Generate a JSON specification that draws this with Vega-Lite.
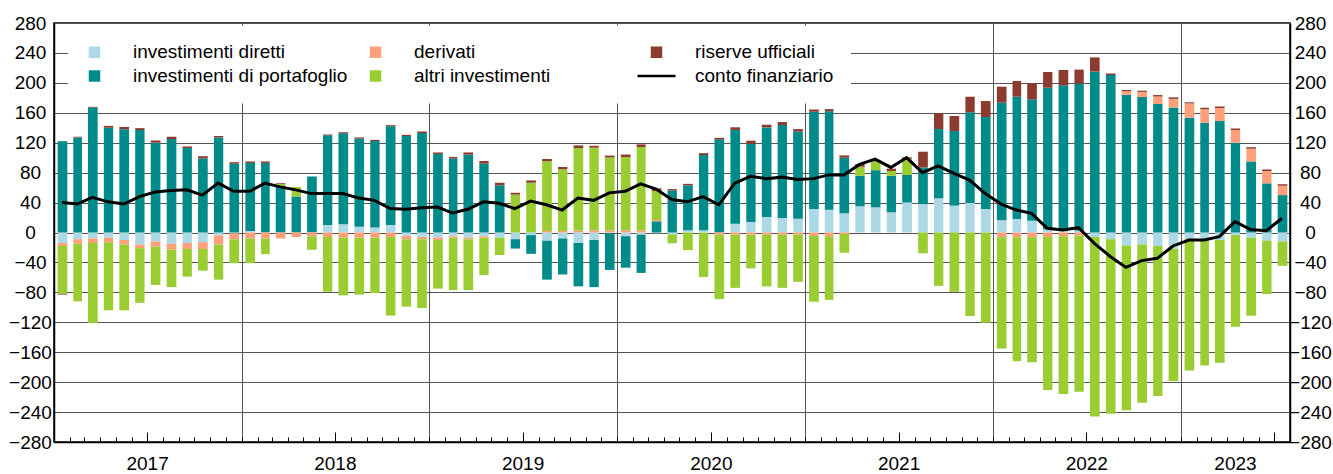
{
  "$schema": "https://vega.github.io/schema/vega-lite/v6.json",
  "width": 1236,
  "height": 419,
  "autosize": {"type": "none"},
  "padding": {"left": 54, "top": 23, "right": 43, "bottom": 32},
  "background": "white",
  "config": {
    "view": {"stroke": "black", "strokeWidth": 1.5},
    "font": "Liberation Sans",
    "axis": {"labelFont": "Liberation Sans", "labelFontSize": 19, "labelColor": "black", "domainColor": "black", "domainWidth": 1.5, "tickColor": "black", "title": null}
  },
  "data": {
    "format": {"parse": {"mese": "date"}},
    "values": [
      {"mese": "2017-01", "investimenti diretti": -14, "investimenti di portafoglio": 122, "derivati": -4, "altri investimenti": -64, "riserve ufficiali": -1, "conto finanziario": 40},
      {"mese": "2017-02", "investimenti diretti": -9, "investimenti di portafoglio": 127, "derivati": -6, "altri investimenti": -77, "riserve ufficiali": 1, "conto finanziario": 38},
      {"mese": "2017-03", "investimenti diretti": -8, "investimenti di portafoglio": 167, "derivati": -6, "altri investimenti": -107, "riserve ufficiali": 1, "conto finanziario": 47},
      {"mese": "2017-04", "investimenti diretti": -7, "investimenti di portafoglio": 140, "derivati": -6, "altri investimenti": -91, "riserve ufficiali": 2.5, "conto finanziario": 41},
      {"mese": "2017-05", "investimenti diretti": -10, "investimenti di portafoglio": 138, "derivati": -6, "altri investimenti": -88, "riserve ufficiali": 3, "conto finanziario": 38},
      {"mese": "2017-06", "investimenti diretti": -16, "investimenti di portafoglio": 137, "derivati": -5, "altri investimenti": -73, "riserve ufficiali": 2.5, "conto finanziario": 48},
      {"mese": "2017-07", "investimenti diretti": -12, "investimenti di portafoglio": 120, "derivati": -7, "altri investimenti": -51, "riserve ufficiali": 3, "conto finanziario": 54},
      {"mese": "2017-08", "investimenti diretti": -15, "investimenti di portafoglio": 125, "derivati": -8, "altri investimenti": -50, "riserve ufficiali": 3, "conto finanziario": 56},
      {"mese": "2017-09", "investimenti diretti": -14, "investimenti di portafoglio": 113, "derivati": -8, "altri investimenti": -37, "riserve ufficiali": 2, "conto finanziario": 57},
      {"mese": "2017-10", "investimenti diretti": -13, "investimenti di portafoglio": 99, "derivati": -9, "altri investimenti": -29, "riserve ufficiali": 3, "conto finanziario": 50},
      {"mese": "2017-11", "investimenti diretti": -4, "investimenti di portafoglio": 127, "derivati": -12, "altri investimenti": -47, "riserve ufficiali": 2, "conto finanziario": 66},
      {"mese": "2017-12", "investimenti diretti": -1, "investimenti di portafoglio": 92, "derivati": -8, "altri investimenti": -32, "riserve ufficiali": 2, "conto finanziario": 55},
      {"mese": "2018-01", "investimenti diretti": 2, "investimenti di portafoglio": 91, "derivati": -8, "altri investimenti": -33, "riserve ufficiali": 2, "conto finanziario": 55},
      {"mese": "2018-02", "investimenti diretti": 0, "investimenti di portafoglio": 93, "derivati": -8, "altri investimenti": -21, "riserve ufficiali": 2, "conto finanziario": 66},
      {"mese": "2018-03", "investimenti diretti": 0, "investimenti di portafoglio": 62, "derivati": -8, "altri investimenti": 3, "riserve ufficiali": 1, "conto finanziario": 61},
      {"mese": "2018-04", "investimenti diretti": 0, "investimenti di portafoglio": 48, "derivati": -6, "altri investimenti": 13, "riserve ufficiali": 0, "conto finanziario": 57},
      {"mese": "2018-05", "investimenti diretti": 0, "investimenti di portafoglio": 75, "derivati": -5, "altri investimenti": -18, "riserve ufficiali": 0, "conto finanziario": 52},
      {"mese": "2018-06", "investimenti diretti": 10, "investimenti di portafoglio": 120, "derivati": -6, "altri investimenti": -73, "riserve ufficiali": 1, "conto finanziario": 52},
      {"mese": "2018-07", "investimenti diretti": 11, "investimenti di portafoglio": 121.5, "derivati": -7, "altri investimenti": -77, "riserve ufficiali": 1.5, "conto finanziario": 52},
      {"mese": "2018-08", "investimenti diretti": 7.6, "investimenti di portafoglio": 118, "derivati": -7, "altri investimenti": -76, "riserve ufficiali": 1.5, "conto finanziario": 46},
      {"mese": "2018-09", "investimenti diretti": 6.7, "investimenti di portafoglio": 115.6, "derivati": -7, "altri investimenti": -74, "riserve ufficiali": 1.5, "conto finanziario": 43},
      {"mese": "2018-10", "investimenti diretti": 10, "investimenti di portafoglio": 132, "derivati": -6, "altri investimenti": -105, "riserve ufficiali": 1.5, "conto finanziario": 32},
      {"mese": "2018-11", "investimenti diretti": -4.5, "investimenti di portafoglio": 129, "derivati": -4.5, "altri investimenti": -90, "riserve ufficiali": 1.5, "conto finanziario": 31},
      {"mese": "2018-12", "investimenti diretti": -6, "investimenti di portafoglio": 133, "derivati": -3, "altri investimenti": -92, "riserve ufficiali": 2, "conto finanziario": 33},
      {"mese": "2019-01", "investimenti diretti": -7, "investimenti di portafoglio": 105, "derivati": -3, "altri investimenti": -65, "riserve ufficiali": 2, "conto finanziario": 34},
      {"mese": "2019-02", "investimenti diretti": -5, "investimenti di portafoglio": 99, "derivati": -2, "altri investimenti": -70, "riserve ufficiali": 2, "conto finanziario": 26},
      {"mese": "2019-03", "investimenti diretti": -7, "investimenti di portafoglio": 104, "derivati": -2, "altri investimenti": -68, "riserve ufficiali": 3, "conto finanziario": 31},
      {"mese": "2019-04", "investimenti diretti": -5, "investimenti di portafoglio": 92, "derivati": -2, "altri investimenti": -50, "riserve ufficiali": 3.5, "conto finanziario": 41},
      {"mese": "2019-05", "investimenti diretti": -7, "investimenti di portafoglio": 63, "derivati": 0, "altri investimenti": -23, "riserve ufficiali": 3.5, "conto finanziario": 39},
      {"mese": "2019-06", "investimenti diretti": -9, "investimenti di portafoglio": -12.5, "derivati": 0, "altri investimenti": 50.6, "riserve ufficiali": 2.5, "conto finanziario": 32},
      {"mese": "2019-07", "investimenti diretti": -3.5, "investimenti di portafoglio": -25, "derivati": 0, "altri investimenti": 66.6, "riserve ufficiali": 3, "conto finanziario": 42},
      {"mese": "2019-08", "investimenti diretti": -11, "investimenti di portafoglio": -52, "derivati": 2, "altri investimenti": 93.3, "riserve ufficiali": 3, "conto finanziario": 37},
      {"mese": "2019-09", "investimenti diretti": -8, "investimenti di portafoglio": -48, "derivati": 2, "altri investimenti": 82.4, "riserve ufficiali": 3, "conto finanziario": 30},
      {"mese": "2019-10", "investimenti diretti": -14, "investimenti di portafoglio": -58, "derivati": 2.5, "altri investimenti": 110.4, "riserve ufficiali": 3.5, "conto finanziario": 46},
      {"mese": "2019-11", "investimenti diretti": -10, "investimenti di portafoglio": -63, "derivati": 3, "altri investimenti": 110.4, "riserve ufficiali": 2.5, "conto finanziario": 43},
      {"mese": "2019-12", "investimenti diretti": -1, "investimenti di portafoglio": -49, "derivati": 3, "altri investimenti": 97.3, "riserve ufficiali": 2.5, "conto finanziario": 53},
      {"mese": "2020-01", "investimenti diretti": -5, "investimenti di portafoglio": -42, "derivati": 3, "altri investimenti": 97.7, "riserve ufficiali": 3.5, "conto finanziario": 55},
      {"mese": "2020-02", "investimenti diretti": -3, "investimenti di portafoglio": -51, "derivati": 3, "altri investimenti": 111.3, "riserve ufficiali": 3.5, "conto finanziario": 65},
      {"mese": "2020-03", "investimenti diretti": -1, "investimenti di portafoglio": 15, "derivati": 1.7, "altri investimenti": 38.8, "riserve ufficiali": 3.5, "conto finanziario": 58},
      {"mese": "2020-04", "investimenti diretti": -2.5, "investimenti di portafoglio": 56, "derivati": 0, "altri investimenti": -12, "riserve ufficiali": 2, "conto finanziario": 44},
      {"mese": "2020-05", "investimenti diretti": 3, "investimenti di portafoglio": 60, "derivati": 0, "altri investimenti": -23.5, "riserve ufficiali": 2, "conto finanziario": 41},
      {"mese": "2020-06", "investimenti diretti": 3, "investimenti di portafoglio": 100.6, "derivati": -0.5, "altri investimenti": -59, "riserve ufficiali": 2.5, "conto finanziario": 48},
      {"mese": "2020-07", "investimenti diretti": 0, "investimenti di portafoglio": 124.5, "derivati": -3, "altri investimenti": -86, "riserve ufficiali": 2, "conto finanziario": 37},
      {"mese": "2020-08", "investimenti diretti": 11.8, "investimenti di portafoglio": 125.3, "derivati": -3, "altri investimenti": -71, "riserve ufficiali": 3.5, "conto finanziario": 66},
      {"mese": "2020-09", "investimenti diretti": 14, "investimenti di portafoglio": 104.7, "derivati": -3, "altri investimenti": -45, "riserve ufficiali": 4, "conto finanziario": 75},
      {"mese": "2020-10", "investimenti diretti": 20.7, "investimenti di portafoglio": 119.8, "derivati": -3, "altri investimenti": -69, "riserve ufficiali": 3.5, "conto finanziario": 72},
      {"mese": "2020-11", "investimenti diretti": 19.4, "investimenti di portafoglio": 124.2, "derivati": -3, "altri investimenti": -71, "riserve ufficiali": 4, "conto finanziario": 74},
      {"mese": "2020-12", "investimenti diretti": 18.5, "investimenti di portafoglio": 116.2, "derivati": -3, "altri investimenti": -63, "riserve ufficiali": 3.5, "conto finanziario": 71},
      {"mese": "2021-01", "investimenti diretti": 31.4, "investimenti di portafoglio": 130, "derivati": -4.5, "altri investimenti": -88, "riserve ufficiali": 3, "conto finanziario": 72},
      {"mese": "2021-02", "investimenti diretti": 30.5, "investimenti di portafoglio": 131.4, "derivati": -5, "altri investimenti": -85, "riserve ufficiali": 3, "conto finanziario": 77},
      {"mese": "2021-03", "investimenti diretti": 25.6, "investimenti di portafoglio": 74.4, "derivati": -2, "altri investimenti": -25, "riserve ufficiali": 3, "conto finanziario": 77},
      {"mese": "2021-04", "investimenti diretti": 35, "investimenti di portafoglio": 40.9, "derivati": 0, "altri investimenti": 12.1, "riserve ufficiali": 3.5, "conto finanziario": 91},
      {"mese": "2021-05", "investimenti diretti": 33.6, "investimenti di portafoglio": 49.7, "derivati": 0, "altri investimenti": 11.8, "riserve ufficiali": 1.8, "conto finanziario": 98},
      {"mese": "2021-06", "investimenti diretti": 27, "investimenti di portafoglio": 48.9, "derivati": 0, "altri investimenti": 6.3, "riserve ufficiali": 3.1, "conto finanziario": 87},
      {"mese": "2021-07", "investimenti diretti": 40, "investimenti di portafoglio": 36.9, "derivati": 0, "altri investimenti": 21.8, "riserve ufficiali": 1.8, "conto finanziario": 100},
      {"mese": "2021-08", "investimenti diretti": 38, "investimenti di portafoglio": 49, "derivati": 0, "altri investimenti": -27.8, "riserve ufficiali": 21, "conto finanziario": 80},
      {"mese": "2021-09", "investimenti diretti": 45.7, "investimenti di portafoglio": 92.6, "derivati": 0, "altri investimenti": -71.3, "riserve ufficiali": 20.9, "conto finanziario": 89},
      {"mese": "2021-10", "investimenti diretti": 35.9, "investimenti di portafoglio": 99.7, "derivati": 0, "altri investimenti": -79.3, "riserve ufficiali": 20.1, "conto finanziario": 79},
      {"mese": "2021-11", "investimenti diretti": 39.4, "investimenti di portafoglio": 121.2, "derivati": 0, "altri investimenti": -111.6, "riserve ufficiali": 20.9, "conto finanziario": 70},
      {"mese": "2021-12", "investimenti diretti": 31.4, "investimenti di portafoglio": 123, "derivati": 0, "altri investimenti": -120.7, "riserve ufficiali": 21.3, "conto finanziario": 52},
      {"mese": "2022-01", "investimenti diretti": 16.3, "investimenti di portafoglio": 157.2, "derivati": -6.5, "altri investimenti": -148.7, "riserve ufficiali": 21.4, "conto finanziario": 38},
      {"mese": "2022-02", "investimenti diretti": 18, "investimenti di portafoglio": 163.5, "derivati": -6.5, "altri investimenti": -165.7, "riserve ufficiali": 21, "conto finanziario": 30},
      {"mese": "2022-03", "investimenti diretti": 15.6, "investimenti di portafoglio": 162.4, "derivati": -6.5, "altri investimenti": -167, "riserve ufficiali": 21.4, "conto finanziario": 25.6},
      {"mese": "2022-04", "investimenti diretti": 4, "investimenti di portafoglio": 189.5, "derivati": -6, "altri investimenti": -204.5, "riserve ufficiali": 21, "conto finanziario": 5.6},
      {"mese": "2022-05", "investimenti diretti": 3, "investimenti di portafoglio": 193.7, "derivati": -5, "altri investimenti": -210.8, "riserve ufficiali": 20.5, "conto finanziario": 3.3},
      {"mese": "2022-06", "investimenti diretti": 2.5, "investimenti di portafoglio": 196.5, "derivati": -4, "altri investimenti": -208.7, "riserve ufficiali": 18.7, "conto finanziario": 6.5},
      {"mese": "2022-07", "investimenti diretti": -6, "investimenti di portafoglio": 215, "derivati": 0, "altri investimenti": -239.8, "riserve ufficiali": 19, "conto finanziario": -14.5},
      {"mese": "2022-08", "investimenti diretti": -9, "investimenti di portafoglio": 210.5, "derivati": 0, "altri investimenti": -233.2, "riserve ufficiali": 2, "conto finanziario": -32},
      {"mese": "2022-09", "investimenti diretti": -17.4, "investimenti di portafoglio": 184, "derivati": 5, "altri investimenti": -220.3, "riserve ufficiali": 1.5, "conto finanziario": -46.6},
      {"mese": "2022-10", "investimenti diretti": -16, "investimenti di portafoglio": 181, "derivati": 7, "altri investimenti": -211.4, "riserve ufficiali": 1.5, "conto finanziario": -37.6},
      {"mese": "2022-11", "investimenti diretti": -18, "investimenti di portafoglio": 171.7, "derivati": 10, "altri investimenti": -200.5, "riserve ufficiali": 2, "conto finanziario": -34.5},
      {"mese": "2022-12", "investimenti diretti": -22, "investimenti di portafoglio": 167, "derivati": 11.6, "altri investimenti": -176.4, "riserve ufficiali": 2, "conto finanziario": -18},
      {"mese": "2023-01", "investimenti diretti": -9, "investimenti di portafoglio": 153.5, "derivati": 19, "altri investimenti": -175.5, "riserve ufficiali": 1.5, "conto finanziario": -10},
      {"mese": "2023-02", "investimenti diretti": -9, "investimenti di portafoglio": 146.7, "derivati": 18, "altri investimenti": -168.8, "riserve ufficiali": 2, "conto finanziario": -10},
      {"mese": "2023-03", "investimenti diretti": -10, "investimenti di portafoglio": 149, "derivati": 17.4, "altri investimenti": -164, "riserve ufficiali": 2, "conto finanziario": -5.6},
      {"mese": "2023-04", "investimenti diretti": -3.5, "investimenti di portafoglio": 120, "derivati": 17, "altri investimenti": -122.5, "riserve ufficiali": 2, "conto finanziario": 14.5},
      {"mese": "2023-05", "investimenti diretti": -7, "investimenti di portafoglio": 95, "derivati": 17, "altri investimenti": -104.2, "riserve ufficiali": 2, "conto finanziario": 4},
      {"mese": "2023-06", "investimenti diretti": -11, "investimenti di portafoglio": 65.7, "derivati": 16.5, "altri investimenti": -71.3, "riserve ufficiali": 2, "conto finanziario": 2.5},
      {"mese": "2023-07", "investimenti diretti": -12, "investimenti di portafoglio": 50, "derivati": 12.5, "altri investimenti": -32.5, "riserve ufficiali": 2, "conto finanziario": 19}
    ]
  },
  "layer": [
    {
      "transform": [
        {"fold": ["investimenti diretti", "investimenti di portafoglio", "derivati", "altri investimenti", "riserve ufficiali"], "as": ["componente", "valore"]},
        {"calculate": "indexof(['investimenti diretti', 'investimenti di portafoglio', 'derivati', 'altri investimenti', 'riserve ufficiali'], datum.componente)", "as": "ordine"}
      ],
      "mark": {"type": "bar", "width": {"band": 0.67}},
      "encoding": {
        "x": {
          "field": "mese", "timeUnit": "utcyearmonth", "type": "temporal",
          "scale": {"domain": [{"year": 2017, "month": 1, "date": 1, "utc": true}, {"year": 2023, "month": 8, "date": 1, "utc": true}], "nice": false},
          "axis": {
            "orient": "bottom", "tickCount": {"interval": "month", "step": 1}, "labels": false,
            "ticks": true, "tickColor": "black", "tickWidth": 1,
            "tickSize": {"condition": {"test": "utcmonth(datum.value) === 6", "value": -10}, "value": -5},
            "grid": true, "gridColor": "#555555", "gridWidth": 1,
            "gridOpacity": {"condition": {"test": "utcmonth(datum.value) === 0", "value": 1}, "value": 0},
            "domain": true, "title": null
          }
        },
        "y": {
          "field": "valore", "type": "quantitative", "stack": "zero",
          "scale": {"domain": [-280, 280], "nice": false, "zero": false},
          "axis": {"orient": "left", "values": [-280, -240, -200, -160, -120, -80, -40, 0, 40, 80, 120, 160, 200, 240, 280], "grid": true, "gridColor": "#555555", "gridWidth": 1, "ticks": false, "tickSize": 0, "labelAlign": "center", "labelPadding": 24, "domain": true, "title": null}
        },
        "color": {
          "field": "componente", "type": "nominal",
          "scale": {
            "domain": ["investimenti diretti", "investimenti di portafoglio", "derivati", "altri investimenti", "riserve ufficiali", "conto finanziario"],
            "range": ["#ADD8E6", "#008B8B", "#FFA07A", "#9ACD32", "#8C3B30", "#000000"]
          },
          "legend": {
            "orient": "none", "legendX": 14, "legendY": 2.5, "columns": 3, "title": null,
            "fillColor": "white", "padding": 17, "symbolType": "square", "symbolSize": 132,
            "labelFont": "Liberation Sans", "labelFontSize": 19, "labelColor": "black", "labelLimit": 400,
            "labelOffset": 29, "columnPadding": 3, "rowPadding": 4, "gridAlign": "all",
            "encode": {
              "symbols": {
                "update": {
                  "shape": {"signal": "datum.value === 'conto finanziario' ? 'stroke' : 'square'"},
                  "size": {"signal": "datum.value === 'conto finanziario' ? 1444 : 132"},
                  "stroke": {"signal": "datum.value === 'conto finanziario' ? 'black' : 'transparent'"},
                  "strokeWidth": {"signal": "datum.value === 'conto finanziario' ? 2.5 : 0"}
                }
              }
            }
          }
        },
        "order": {"field": "ordine", "type": "quantitative"}
      }
    },
    {
      "mark": {"type": "line", "strokeWidth": 3},
      "encoding": {
        "x": {
          "field": "mese", "timeUnit": "utcyearmonth", "type": "temporal", "bandPosition": 0.5,
          "axis": {
            "orient": "bottom",
            "values": [
              {"year": 2017, "month": 7, "date": 1, "utc": true},
              {"year": 2018, "month": 7, "date": 1, "utc": true},
              {"year": 2019, "month": 7, "date": 1, "utc": true},
              {"year": 2020, "month": 7, "date": 1, "utc": true},
              {"year": 2021, "month": 7, "date": 1, "utc": true},
              {"year": 2022, "month": 7, "date": 1, "utc": true},
              {"year": 2023, "month": 4, "date": 16, "utc": true}
            ],
            "format": "%Y", "ticks": false, "domain": false, "grid": false, "labelPadding": 12, "title": null
          }
        },
        "y": {
          "field": "conto finanziario", "type": "quantitative",
          "axis": {"orient": "right", "values": [-280, -240, -200, -160, -120, -80, -40, 0, 40, 80, 120, 160, 200, 240, 280], "grid": false, "ticks": false, "tickSize": 0, "labelAlign": "center", "labelPadding": 20, "domain": true, "title": null}
        },
        "color": {"datum": "conto finanziario", "type": "nominal"}
      }
    }
  ],
  "resolve": {"axis": {"x": "independent", "y": "independent"}}
}
